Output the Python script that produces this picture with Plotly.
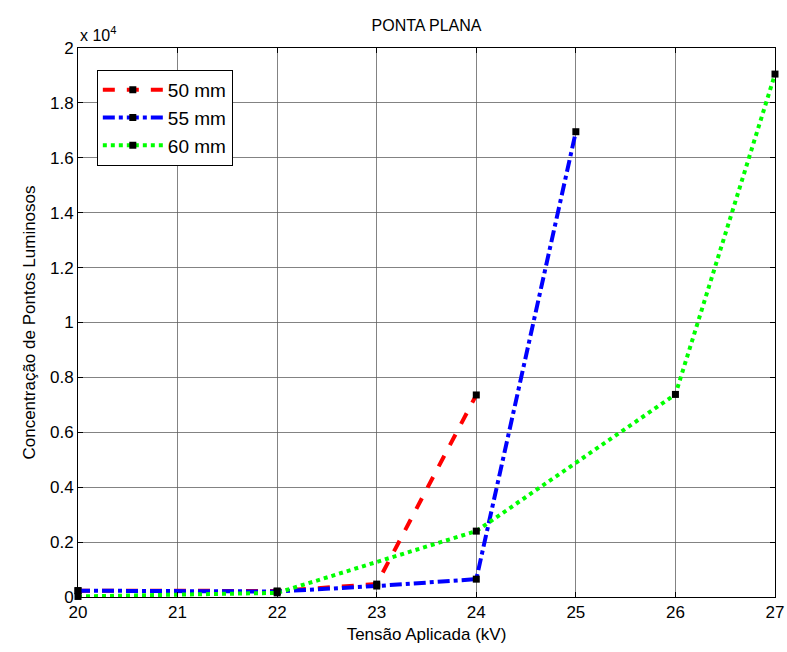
import plotly.graph_objects as go

x_50 = [20, 22, 23, 24]
y_50 = [230, 220, 470, 7360]
x_55 = [20, 22, 23, 24, 25]
y_55 = [230, 200, 400, 650, 16950]
x_60 = [20, 22, 24, 26, 27]
y_60 = [20, 150, 2400, 7380, 19050]
names = ["50 mm", "55 mm", "60 mm"]
y_tickvals = [0, 2000, 4000, 6000, 8000, 10000, 12000, 14000, 16000, 18000, 20000]
y_ticktext = ["0", "0.2", "0.4", "0.6", "0.8", "1", "1.2", "1.4", "1.6", "1.8", "2"]
x_tickvals = [20, 21, 22, 23, 24, 25, 26, 27]

FONT = "Liberation Sans, Arial, sans-serif"

W, H = 787, 652
L, R, T, B = 78, 12, 48, 55

fig = go.Figure()
styles = [("red", "dash"), ("blue", "dashdot"), ("#00ff00", "dot")]
for (xs, ys), name, (col, dash) in zip([(x_50, y_50), (x_55, y_55), (x_60, y_60)], names, styles):
    fig.add_trace(go.Scatter(
        x=xs, y=ys, name=name, mode="lines+markers",
        line=dict(color=col, width=4, dash=dash),
        marker=dict(symbol="square", size=7, color="black"),
        cliponaxis=False,
    ))

axis_common = dict(
    showline=True, linecolor="black", linewidth=1, mirror="ticks",
    ticks="inside", ticklen=5, tickcolor="black",
    showgrid=True, gridcolor="rgba(90,90,90,0.75)", gridwidth=1,
    zeroline=False, tickfont=dict(family=FONT, size=17, color="black"),
    automargin=False,
)

fig.update_xaxes(range=[20, 27], tickvals=x_tickvals,
                 title=dict(text="Tensão Aplicada (kV)", font=dict(family=FONT, size=17, color="black"), standoff=6),
                 **axis_common)
fig.update_yaxes(range=[0, 20000], tickvals=y_tickvals, ticktext=y_ticktext,
                 title=dict(text="Concentração de Pontos Luminosos", font=dict(family=FONT, size=17, color="black"), standoff=10),
                 **axis_common)

fig.update_layout(
    width=W, height=H,
    margin=dict(l=L, r=R, t=T, b=B, autoexpand=False),
    paper_bgcolor="white", plot_bgcolor="white",
    title=dict(text="PONTA PLANA", x=(L + (W - L - R) / 2) / W, xref="container", xanchor="center",
               y=1 - 25 / H, yref="container", yanchor="middle",
               font=dict(family=FONT, size=16, color="black"), automargin=False),
    legend=dict(x=0.027, y=0.96, xanchor="left", yanchor="top",
                bgcolor="white", bordercolor="black", borderwidth=1,
                font=dict(family=FONT, size=19, color="black"),
                itemwidth=60, tracegroupgap=6),
    annotations=[dict(text="x 10<sup>4</sup>", xref="paper", yref="paper", x=0, y=1.0,
                      xanchor="left", yanchor="bottom", showarrow=False, yshift=2,
                      font=dict(family=FONT, size=16, color="black"))],
    showlegend=True,
)

fig.write_html("out.html", config={"displayModeBar": False},
               post_script="document.body.style.margin='0';document.body.style.overflow='hidden';")
